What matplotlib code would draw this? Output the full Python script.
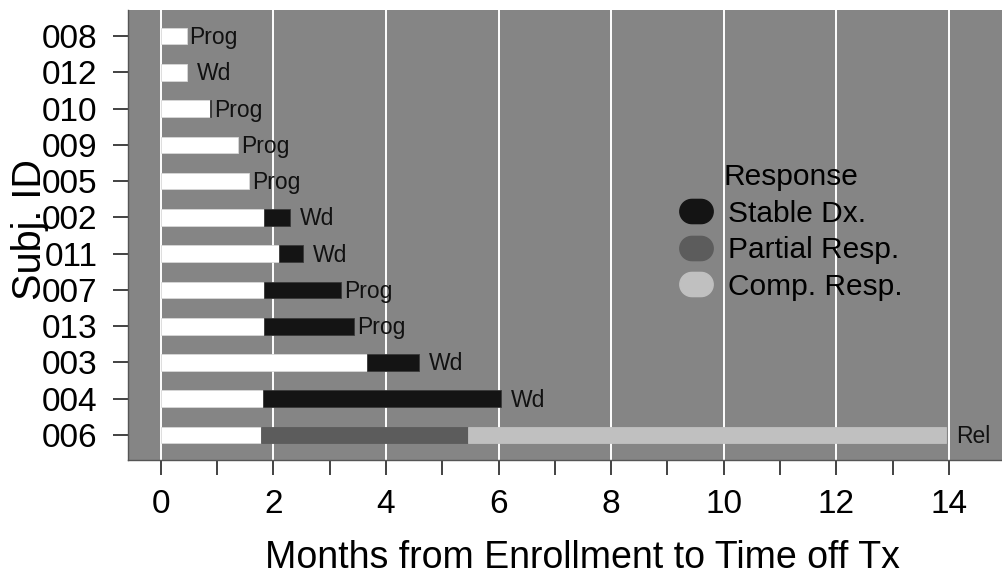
import matplotlib
matplotlib.use("Agg")
import matplotlib.pyplot as plt
from matplotlib.path import Path
from matplotlib.lines import Line2D
import numpy as np

plt.rcParams['font.family'] = ['Liberation Sans', 'DejaVu Sans']

# Subjects, bottom to top
subjects = ["006", "004", "003", "013", "007", "011", "002", "005", "009", "010", "012", "008"]
# end of white (pre-response) segment
pre_end = [1.78, 1.81, 3.66, 1.84, 1.84, 2.10, 1.83, 1.57, 1.37, 0.87, 0.46, 0.46]
# stable disease segment end (None if absent)
stable_end = [None, 6.04, 4.59, 3.44, 3.21, 2.53, 2.30, None, None, 0.90, None, None]
# partial response segment end
partial_end = [5.46, None, None, None, None, None, None, None, None, None, None, None]
# complete response segment end
complete_end = [13.95, None, None, None, None, None, None, None, None, None, None, None]
# outcome labels
outcome = ["Rel", "Wd", "Wd", "Prog", "Prog", "Wd", "Wd", "Prog", "Prog", "Prog", "Wd", "Prog"]

panel_col = "#858585"
stable_col = "#141414"
partial_col = "#5c5c5c"
complete_col = "#c0c0c0"

fig = plt.figure(figsize=(10.02, 5.73), dpi=100)
ax = fig.add_axes([128/1002, 113/573, 874/1002, 450/573])
ax.set_facecolor(panel_col)
ax.set_xlim(-0.58, 14.94)
ax.set_ylim(-0.69, 11.72)

# grid
for gx in range(0, 15, 2):
    ax.axvline(gx, color="white", lw=1.4, zorder=1)

h = 0.46
y = np.arange(len(subjects))
ax.barh(y, pre_end, height=h, left=0, color="white", edgecolor="#d8d8d8", lw=0.6, zorder=2)
for i in range(len(subjects)):
    start = pre_end[i]
    end = start
    for seg, col in ((stable_end, stable_col), (partial_end, partial_col), (complete_end, complete_col)):
        if seg[i] is not None:
            ax.barh(y[i], seg[i] - start, height=h, left=start, color=col,
                    edgecolor="#3a3a3a" if col == stable_col else col, lw=0.6, zorder=2)
            start = seg[i]
            end = seg[i]
    ax.text(end + 0.48, y[i] + 0.03, outcome[i], ha="center", va="center_baseline",
            fontsize=16.5, color="#111111", zorder=3)

ax.set_yticks(y)
ax.set_yticklabels(subjects, fontsize=24)
ax.set_xticks(range(0, 15, 2))
ax.set_xticks(range(1, 15, 2), minor=True)
ax.set_xticklabels([str(v) for v in range(0, 15, 2)], fontsize=24)
ax.tick_params(axis="x", which="both", length=11, width=1.2, color="#222222", pad=10, direction="out")
ax.tick_params(axis="y", length=11, width=1.2, color="#222222", pad=11, direction="out")

for s in ("top", "right"):
    ax.spines[s].set_visible(False)
for s in ("left", "bottom"):
    ax.spines[s].set_color("#555555")
    ax.spines[s].set_linewidth(1.0)

ax.set_xlabel("Months from Enrollment to Time off Tx", fontsize=27)
ax.xaxis.set_label_coords(0.52, -0.178)
ax.xaxis.label.set_va("top")
ax.set_ylabel("Subj. ID", fontsize=28.5)
ax.yaxis.set_label_coords(-0.09, 0.511)

# stadium-shaped legend marker
t = np.linspace(-np.pi/2, np.pi/2, 24)
right = np.column_stack([0.19 + 0.5*np.cos(t), 0.5*np.sin(t)])
left = np.column_stack([-0.19 - 0.5*np.cos(t), -0.5*np.sin(t)])
verts = np.vstack([right, left, right[:1]])
stadium = Path(verts, closed=True)

handles = [Line2D([], [], linestyle="none", marker=stadium, markersize=24,
                  markerfacecolor=c, markeredgecolor=c)
           for c in (stable_col, partial_col, complete_col)]
leg = ax.legend(handles, ["Stable Dx.", "Partial Resp.", "Comp. Resp."],
                title="Response", fontsize=21.5, title_fontsize=21.5, frameon=False,
                loc="center left", bbox_to_anchor=(0.6, 0.507), handlelength=1.1,
                handletextpad=0.53, labelspacing=0.29)

fig.savefig("out.png", dpi=100)
